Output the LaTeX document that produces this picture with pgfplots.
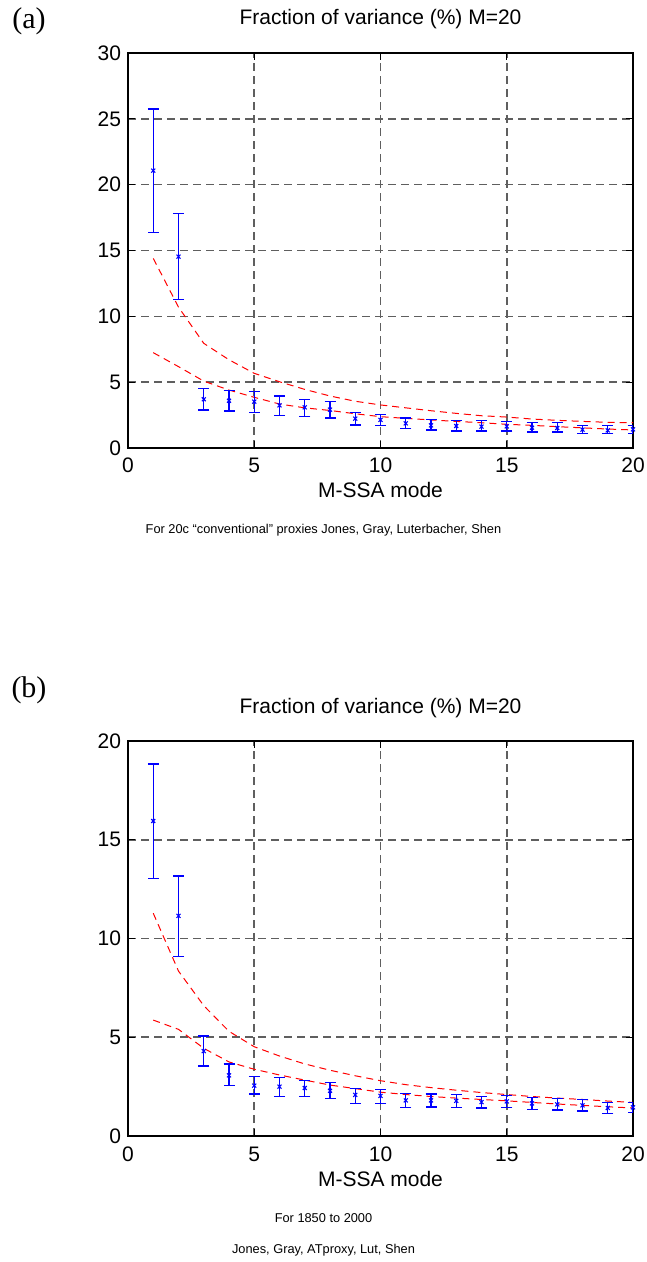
\documentclass[border=0pt]{standalone}
\usepackage{fontspec}
\setmainfont{Liberation Sans}
\newfontfamily\timesfont{Liberation Serif}
\usepackage{pgfplots}
\pgfplotsset{compat=1.18}
\usepackage{pgfplotstable}
\definecolor{gridgray}{RGB}{95,95,95}

\pgfplotstableread{
x y ep em
1 21.06 4.68 4.71
2 14.53 3.26 3.24
3 3.70 0.80 0.81
4 3.59 0.79 0.78
5 3.52 0.78 0.81
6 3.24 0.71 0.79
7 3.09 0.61 0.71
8 2.91 0.61 0.63
9 2.23 0.45 0.48
10 2.13 0.43 0.43
11 1.87 0.41 0.40
12 1.72 0.46 0.35
13 1.67 0.40 0.38
14 1.62 0.45 0.33
15 1.64 0.39 0.35
16 1.54 0.38 0.32
17 1.52 0.40 0.30
18 1.39 0.33 0.28
19 1.34 0.38 0.25
20 1.42 0.27 0.31
}\topdata

\pgfplotstableread{
x y ep em
1 15.95 2.89 2.90
2 11.15 2.01 2.07
3 4.30 0.76 0.76
4 3.07 0.58 0.52
5 2.55 0.45 0.42
6 2.50 0.45 0.51
7 2.43 0.37 0.44
8 2.29 0.41 0.40
9 2.08 0.33 0.43
10 2.03 0.33 0.39
11 1.80 0.35 0.35
12 1.80 0.33 0.33
13 1.78 0.33 0.33
14 1.72 0.30 0.30
15 1.75 0.30 0.30
16 1.65 0.30 0.30
17 1.60 0.28 0.28
18 1.55 0.28 0.28
19 1.42 0.27 0.27
20 1.45 0.25 0.25
}\botdata

\pgfplotsset{
  mystyle/.style={
    scale only axis, width=252.5pt, height=197.5pt,
    anchor=north west,
    xmin=0, xmax=20, ymin=0,
    xtick={0,5,10,15,20},
    grid=major,
    major grid style={draw=gridgray, line width=0.8pt, dash pattern=on 4pt off 2.5pt},
    tick align=inside, major tick length=3.5pt,
    tick style={black, line width=0.6pt},
    axis line style={black, line width=0.8pt},
    /pgf/number format/assume math mode=true,
    ticklabel style={font=\fontsize{10.5}{12}\selectfont},
    xticklabel style={anchor=base, yshift=-12.5pt},
    title style={font=\fontsize{10.5}{12}\selectfont, at={(axis description cs:0.5,1)}, anchor=base, yshift=8pt},
    xlabel style={font=\fontsize{10.5}{12}\selectfont, at={(axis description cs:0.5,0)}, anchor=base, yshift=-25pt},
    title={Fraction of variance (\%) M=20},
    xlabel={M-SSA mode},
  },
  ebar/.style={blue, mark=x, only marks, mark size=1.4pt, line width=0.55pt,
    error bars/.cd, y dir=both, y explicit,
    error mark options={rotate=90, mark size=2.75pt, draw=blue, line width=0.6pt},
    error bar style={draw=blue, line width=0.6pt, solid}},
  rline/.style={red, line width=0.5pt, dash pattern=on 3.5pt off 2.5pt, mark=none},
}

\begin{document}
\begin{tikzpicture}
\path[use as bounding box] (0,0) rectangle (323.5pt,-631pt);

\node[font=\timesfont\fontsize{15}{17}\selectfont] at (14.5pt,-10.5pt) {(a)};
\node[font=\timesfont\fontsize{15}{17}\selectfont] at (14.5pt,-345pt) {(b)};

\begin{axis}[mystyle, at={(64pt,-26.5pt)}, ymax=30, ytick={0,5,...,30}]
\addplot[rline] coordinates {(1,14.4) (2,10.7) (3,7.95) (4,6.7) (5,5.67) (6,5.03) (7,4.45) (8,3.95) (9,3.55) (10,3.27) (11,3.05) (12,2.83) (13,2.63) (14,2.45) (15,2.35) (16,2.2) (17,2.1) (18,2.02) (19,1.95) (20,1.92)};
\addplot[rline] coordinates {(1,7.24) (2,6.18) (3,5.08) (4,4.4) (5,3.85) (6,3.34) (7,3.05) (8,2.85) (9,2.6) (10,2.38) (11,2.25) (12,2.13) (13,2.02) (14,1.92) (15,1.8) (16,1.72) (17,1.62) (18,1.53) (19,1.44) (20,1.37)};
\addplot[ebar] table[x=x, y=y, y error plus=ep, y error minus=em] {\topdata};
\end{axis}

\node[font=\fontsize{6.4}{8}\selectfont] at (161.75pt,-265pt) {For 20c “conventional” proxies Jones, Gray, Luterbacher, Shen};

\begin{axis}[mystyle, at={(64pt,-370.5pt)}, ymax=20, ytick={0,5,...,20}]
\addplot[rline] coordinates {(1,11.28) (2,8.35) (3,6.6) (4,5.3) (5,4.52) (6,4.05) (7,3.65) (8,3.33) (9,3.05) (10,2.8) (11,2.6) (12,2.45) (13,2.32) (14,2.2) (15,2.1) (16,2.0) (17,1.92) (18,1.85) (19,1.77) (20,1.7)};
\addplot[rline] coordinates {(1,5.87) (2,5.4) (3,4.44) (4,3.75) (5,3.38) (6,3.09) (7,2.83) (8,2.58) (9,2.4) (10,2.22) (11,2.1) (12,2.0) (13,1.92) (14,1.85) (15,1.78) (16,1.7) (17,1.62) (18,1.55) (19,1.48) (20,1.42)};
\addplot[ebar] table[x=x, y=y, y error plus=ep, y error minus=em] {\botdata};
\end{axis}

\node[font=\fontsize{6.4}{8}\selectfont] at (161.75pt,-609pt) {For 1850 to 2000};
\node[font=\fontsize{6.4}{8}\selectfont] at (161.75pt,-625pt) {Jones, Gray, ATproxy, Lut, Shen};
\end{tikzpicture}
\end{document}
